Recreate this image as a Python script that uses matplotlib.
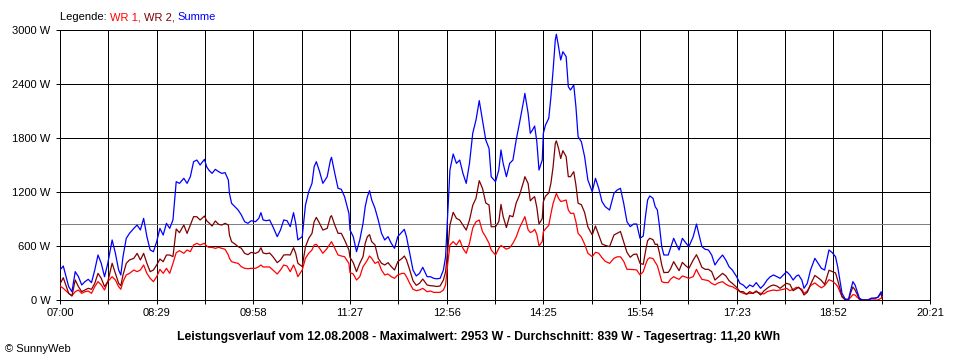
import matplotlib
matplotlib.use("Agg")
import matplotlib.pyplot as plt
from matplotlib.offsetbox import TextArea, HPacker, AnchoredOffsetbox
import numpy as np

plt.rcParams['font.family'] = ['Liberation Sans', 'DejaVu Sans']

# minutes after 07:00
minutes = [0, 3, 8, 11, 14, 17, 20, 23, 26, 29, 32, 35, 38, 41, 44, 48, 51, 54, 56, 58,
           61, 64, 68, 71, 74, 77, 80, 83, 86, 89, 92, 95, 98, 101, 104, 107, 110, 114, 117, 120,
           123, 126, 129, 133, 135,
           137, 140, 143, 146, 149, 152, 155, 156, 158, 161, 164, 167, 170, 173, 176, 180, 183, 185, 187, 190,
           193, 196, 200, 203, 206, 209, 212, 215, 217, 219, 223, 226, 229, 232, 234, 236, 239, 242, 246, 249,
           250, 253, 256, 259, 262, 266,
           267, 270, 273, 276, 279, 281, 283, 285, 287, 290, 293, 296, 299, 302, 305, 308, 311, 315, 317, 319,
           322, 325, 328, 331, 334, 338, 341, 344, 347, 350, 353, 355, 357, 359, 362, 365, 368, 371, 374, 377,
           380, 383, 386, 389, 392, 395, 397,
           401, 404, 406, 408, 411, 414, 417, 420, 423, 427, 428, 431, 433, 435, 437, 439, 441, 444, 445, 447,
           450, 452, 454, 456, 457, 459, 461, 463, 466, 468, 470, 473, 475, 477, 480, 483, 486, 490, 493, 496,
           499, 502, 506, 510, 513, 516, 519, 522, 525, 528, 531,
           534, 537, 539, 541, 543, 546, 548, 550, 552, 554, 556, 560, 562, 565, 567, 570, 573, 576, 579, 583,
           586, 588, 591, 594, 597, 600, 603, 606, 610, 613, 616, 619, 623, 626, 629, 632, 635, 638, 641, 645,
           648, 651, 654, 657, 660, 663, 666, 669,
           672, 675, 678, 680, 683, 685, 688, 691, 695, 698, 701, 704, 706, 708, 711, 714, 716, 718, 720, 723,
           726, 728, 730, 732, 734, 736, 739, 741, 744, 747, 750, 753, 756, 757]

summe = [333, 378, 148, 92, 315, 259, 167, 204, 230, 193, 333, 500, 407, 259, 407, 667, 519, 333, 278, 481,
         685, 741, 796, 833, 778, 907, 704, 556, 537, 648, 796, 722, 852, 796, 889, 1315, 1296, 1352, 1296, 1370,
         1537, 1555, 1500, 1563, 1481,
         1444, 1407, 1452, 1426, 1407, 1415, 1333, 1185, 1074, 1037, 1000, 944, 870, 852, 881, 870, 907, 970, 889, 881,
         889, 815, 704, 778, 889, 881, 815, 970, 852, 667, 704, 1055, 1204, 1296, 1481, 1537, 1426, 1296, 1370, 1555,
         1585, 1407, 1241, 1230, 1148, 963,
         778, 704, 537, 667, 852, 1037, 1148, 1215, 1111, 1019, 889, 741, 667, 704, 630, 574, 704, 759, 785, 704,
         519, 333, 267, 296, 363, 259, 259, 241, 235, 241, 333, 481, 963, 1444, 1622, 1518, 1555, 1407, 1296, 1518,
         1852, 2000, 2215, 2000, 1778, 1685, 1370,
         1315, 1444, 1667, 1518, 1370, 1518, 1555, 1778, 1963, 2222, 2296, 2074, 1852, 1889, 1933, 1759, 1444, 1555, 1852, 1944,
         2019, 2259, 2555, 2889, 2953, 2815, 2667, 2759, 2704, 2370, 2333, 2389, 2148, 1815, 1759, 1593, 1333, 1204, 1352, 1241,
         1093, 1037, 1000, 1185, 1222, 1241, 1074, 870, 815, 844, 844,
         685, 711, 926, 1111, 1156, 1130, 1037, 1000, 815, 593, 500, 500, 574, 685, 630, 556, 685, 637, 593, 704,
         844, 741, 593, 563, 556, 500, 389, 444, 500, 444, 370, 333, 259, 185, 167, 130, 167, 148, 193, 130,
         167, 222, 259, 278, 259, 241, 278, 315,
         278, 222, 267, 278, 222, 130, 185, 333, 463, 407, 352, 333, 444, 556, 526, 481, 370, 222, 74, 8,
         8, 111, 204, 167, 92, 19, 0, 0, 0, 19, 19, 30, 92, 56]

wr1 = [156, 130, 74, 48, 92, 111, 74, 92, 100, 74, 148, 204, 167, 111, 204, 259, 222, 148, 119, 204,
       278, 296, 333, 315, 333, 389, 296, 241, 204, 259, 341, 296, 352, 296, 407, 526, 548, 519, 556, 537,
       611, 630, 611, 630, 600,
       585, 585, 574, 585, 574, 563, 500, 463, 426, 415, 407, 370, 352, 348, 352, 352, 370, 389, 367, 367,
       367, 333, 289, 333, 389, 378, 315, 389, 333, 259, 333, 463, 519, 556, 611, 619, 574, 519, 574, 630,
       648, 574, 500, 489, 481, 407,
       304, 289, 222, 259, 370, 407, 444, 489, 463, 407, 426, 333, 278, 289, 259, 241, 278, 296, 296, 259,
       185, 119, 104, 111, 130, 92, 100, 85, 85, 85, 111, 167, 407, 611, 648, 611, 667, 574, 519, 630,
       800, 870, 889, 760, 700, 630, 556,
       500, 574, 605, 590, 565, 580, 630, 700, 800, 900, 926, 780, 750, 760, 785, 730, 600, 650, 759, 790,
       830, 960, 1074, 1150, 1185, 1130, 1095, 1100, 1111, 1000, 963, 963, 870, 740, 700, 620, 520, 481, 530, 520,
       470, 430, 407, 463, 480, 480, 430, 341, 340, 338, 333,
       278, 315, 389, 452, 470, 460, 420, 380, 296, 204, 195, 193, 230, 259, 245, 230, 267, 255, 241, 260,
       341, 290, 230, 222, 215, 185, 167, 190, 204, 175, 156, 148, 119, 92, 74, 67, 74, 74, 92, 74,
       67, 92, 104, 111, 104, 111, 119, 130,
       104, 119, 141, 135, 120, 74, 100, 160, 190, 160, 135, 160, 193, 225, 210, 180, 150, 92, 40, 8,
       8, 30, 60, 55, 30, 8, 0, 0, 0, 0, 0, 0, 20, 37]

# WR 2 is what is left of the sum
wr2 = [s - a for s, a in zip(summe, wr1)]

tick_labels = ["07:00", "08:29", "09:58", "11:27", "12:56", "14:25", "15:54", "17:23", "18:52", "20:21"]
y_ticks = [0, 600, 1200, 1800, 2400, 3000]
mittel = 839

fig = plt.figure(figsize=(9.6, 3.6), dpi=100)
ax = fig.add_axes([60 / 960, 60 / 360, 870 / 960, 270 / 360])
ax.set_xlim(0, 801)
ax.set_ylim(0, 3000)

step = 801 / 9
for v in y_ticks:
    ax.axhline(v, color="black", lw=0.7, zorder=1, antialiased=False)
for k in range(19):
    ax.axvline(k * step / 2, color="black", lw=0.7, zorder=1, antialiased=False)
ax.axhline(mittel, color="#808080", lw=0.7, zorder=2, antialiased=False)

ax.plot(minutes, wr1, color="#ff0000", lw=0.9, zorder=3)
ax.plot(minutes, wr2, color="#800000", lw=0.9, zorder=3)
ax.plot(minutes, summe, color="#0000ff", lw=0.9, zorder=4)

ax.set_xticks([k * step for k in range(10)])
ax.set_xticklabels(tick_labels)
ax.set_xticks([k * step + step / 2 for k in range(9)], minor=True)
ax.set_yticks(y_ticks)
ax.set_yticklabels([f"{v} W" for v in y_ticks])
ax.tick_params(axis="both", which="both", direction="out", length=3, width=0.7,
               labelsize=8, color="black")
ax.tick_params(axis="x", pad=3)
ax.tick_params(axis="y", pad=4)
for s in ax.spines.values():
    s.set_linewidth(0.7)
    s.set_color("black")

parts = [TextArea("Legende: ", textprops=dict(color="black", size=8)),
         TextArea("WR 1, ", textprops=dict(color="#ff0000", size=8)),
         TextArea("WR 2, ", textprops=dict(color="#800000", size=8)),
         TextArea("Summe", textprops=dict(color="#0000ff", size=8))]
box = HPacker(children=parts, align="baseline", pad=0, sep=0)
anch = AnchoredOffsetbox(loc="center left", child=box, pad=0, frameon=False,
                         bbox_to_anchor=(60 / 960, 1 - 17 / 360),
                         bbox_transform=fig.transFigure, borderpad=0)
fig.add_artist(anch)

fig.text(479 / 960, 1 - 337 / 360,
         "Leistungsverlauf vom 12.08.2008 - Maximalwert: 2953 W - Durchschnitt: 839 W - Tagesertrag: 11,20 kWh",
         ha="center", va="center", fontsize=8.8, fontweight="bold")
fig.text(5 / 960, 1 - 349 / 360, "© SunnyWeb", ha="left", va="center", fontsize=8)

fig.savefig("out.png", dpi=100, facecolor="white")
